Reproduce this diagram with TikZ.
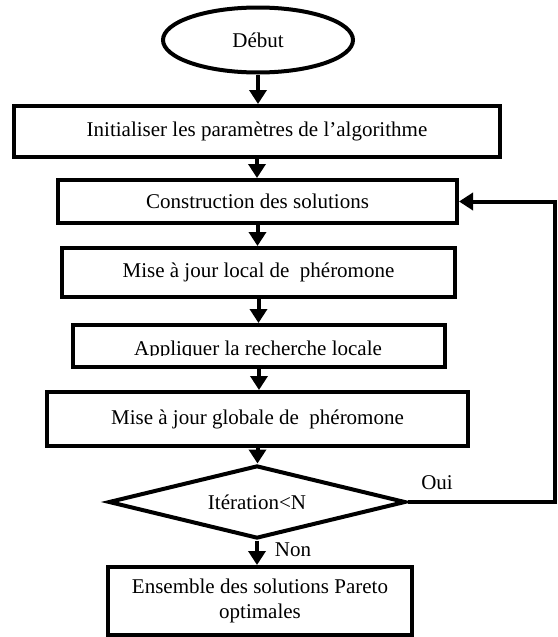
\documentclass[tikz,border=0pt]{standalone}
\usepackage{fontspec}
\setmainfont{Liberation Serif}
\usetikzlibrary{arrows.meta,shapes.geometric}
\begin{document}
\begin{tikzpicture}[x=1pt,y=-1pt,
  txt/.style={font=\fontsize{21}{25}\selectfont},
  box/.style={draw,line width=4pt,rectangle,inner sep=0pt,txt},
  arr/.style={line width=4pt,-{Triangle[length=14pt,width=17pt]}},
  lbl/.style={txt,inner sep=0pt}]
\useasboundingbox (0,0) rectangle (557,637);
\node[draw,ellipse,line width=4pt,inner sep=0pt,minimum width=190,minimum height=65,txt] (start) at (258,40) {Début};
\node[box,minimum width=486,minimum height=51] (b1) at (257,131.5) {Initialiser les paramètres de l’algorithme};
\node[box,minimum width=399,minimum height=43] (b2) at (257.5,201.5) {Construction des solutions};
\node[box,minimum width=393,minimum height=49] (b3) at (258.5,272.5) {Mise à jour local de \ phéromone};
\node[box,minimum width=372,minimum height=42] (b4) at (259,346) {};
\begin{scope}
  \clip (80,328) rectangle (440,355);
  \node[lbl,anchor=base] (t4) at (258,355.5) {Appliquer la recherche locale};
\end{scope}
\node[box,minimum width=421,minimum height=54] (b5) at (257.5,419) {Mise à jour globale de \ phéromone};
\node[draw,diamond,line width=4pt,inner sep=0pt,aspect=4,minimum width=297,minimum height=73,txt] (d) at (257,502) {Itération<N};
\node[box,minimum width=304,minimum height=68,align=center] (b6) at (260,601) {Ensemble des solutions Pareto\\optimales};
\node[lbl] (oui) at (437,483) {Oui};
\node[lbl] (non) at (293,550) {Non};
\coordinate (loop) at (555,502);
\draw[arr] (start.south) -- (start.south |- b1.north);
\draw[arr] (b1.south) -- (b1.south |- b2.north);
\draw[arr] (b2.south) -- (b2.south |- b3.north);
\draw[arr] (b3.south) -- (b3.south |- b4.north);
\draw[arr] (b4.south) -- (b4.south |- b5.north);
\draw[arr] (b5.south) -- (b5.south |- d.north);
\draw[arr] (d.south) -- (d.south |- b6.north);
\draw[arr] (d.east) -- (loop) |- (b2.east);
\end{tikzpicture}
\end{document}
